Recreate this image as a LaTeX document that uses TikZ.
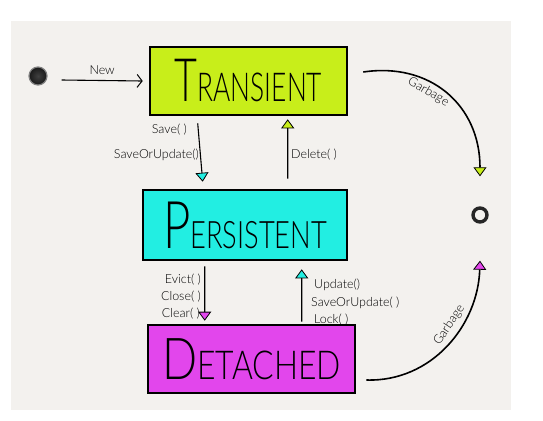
\documentclass[tikz,border=0pt]{standalone}
\usepackage{fontspec}
\setmainfont{Lato}[UprightFont={* Light}]
\usetikzlibrary{arrows.meta,calc}
\definecolor{bgc}{HTML}{F3F1EE}
\definecolor{tgreen}{HTML}{C8EE1A}
\definecolor{pcyan}{HTML}{22EEE2}
\definecolor{dmag}{HTML}{E246EC}
\tikzset{
  box/.style={draw=black, line width=2.6bp, inner sep=0pt},
  lbl/.style={font=\fontsize{12.5}{14}\selectfont, inner sep=1bp},
  conn/.style={line width=1.1bp},
  headg/.style={-{Triangle[length=9bp,width=13bp,fill=tgreen,line width=0.8bp]}},
  headc/.style={-{Triangle[length=9bp,width=13bp,fill=pcyan,line width=0.8bp]}},
  headm/.style={-{Triangle[length=9bp,width=13bp,fill=dmag,line width=0.8bp]}},
}
\begin{document}
\begin{tikzpicture}[x=1bp,y=-1bp]
\useasboundingbox (0,0) rectangle (543,420);
\fill[white] (0,0) rectangle (543,420);
\fill[bgc] (11,21) rectangle (511,410);
% states
\node[box, fill=tgreen, minimum width=197bp, minimum height=68bp] (T) at (248.5,81)
  {\scalebox{0.66}[1]{\fontsize{60}{60}\selectfont T\fontsize{40}{40}\selectfont RANSIENT}};
\node[box, fill=pcyan, minimum width=204bp, minimum height=70bp] (P) at (245,225)
  {\scalebox{0.72}[1]{\fontsize{66}{66}\selectfont P\fontsize{38}{38}\selectfont ERSISTENT}};
\node[box, fill=dmag, minimum width=207bp, minimum height=68bp] (D) at (251.5,359)
  {\scalebox{0.8}[1]{\fontsize{58}{58}\selectfont D\fontsize{40}{40}\selectfont ETACHED}};
% start and end
\node[circle, minimum size=18bp, inner sep=0pt, inner color=black!75, outer color=black!90, draw=black!50, line width=1.2bp] (S) at (38,76) {};
\node[circle, minimum size=14bp, inner sep=0pt, draw=black!85, line width=3.4bp] (E) at (480,215) {};
% New
\draw[conn, -{Straight Barb[length=5bp,width=13bp,line width=1bp]}] ([xshift=14bp,yshift=-4bp]S.east) -- ([xshift=-6bp]T.west)
  node[midway, above=4bp, lbl] {New};
% Save
\draw[conn, headc] ([xshift=49bp,yshift=-7bp]T.south west) -- ([xshift=61bp,yshift=7bp]P.north west);
\node[lbl, anchor=east] (l1) at (188,130) {Save( )};
\node[lbl, anchor=east] (l2) at (200,155) {SaveOrUpdate()};
% Delete
\draw[conn, headg] ([xshift=146bp,yshift=10bp]P.north west) -- ([xshift=139bp,yshift=-3bp]T.south west);
\node[lbl, anchor=west] (l3) at (290,155) {Delete( )};
% Evict
\draw[conn, headm] ([xshift=63bp,yshift=-5bp]P.south west) -- ([xshift=58bp,yshift=3bp]D.north west);
\node[lbl, anchor=east] (l4) at (202,280) {Evict( )};
\node[lbl, anchor=east] (l5) at (202,297) {Close( )};
\node[lbl, anchor=east] (l6) at (201,314) {Clear( )};
% Update
\draw[conn, headc] ([xshift=155bp,yshift=2bp]D.north west) -- ([xshift=160bp,yshift=-8bp]P.south west);
\node[lbl, anchor=west] (l7) at (313,285) {Update()};
\node[lbl, anchor=west] (l8) at (310,303) {SaveOrUpdate( )};
\node[lbl, anchor=west] (l9) at (313,320) {Lock( )};
% Garbage
\draw[line width=1.6bp, headg] ([xshift=15bp,yshift=9bp]T.east) .. controls (430,62) and (480,105) .. ([yshift=30bp]E.north)
  node[pos=0.4, sloped, below=2bp, lbl] {Garbage};
\draw[line width=1.6bp, headm] ([xshift=10bp,yshift=-21bp]D.east) .. controls (432,382) and (478,325) .. ([yshift=-37bp]E.south)
  node[pos=0.6, sloped, above=3bp, lbl] {Garbage};
\end{tikzpicture}
\end{document}
